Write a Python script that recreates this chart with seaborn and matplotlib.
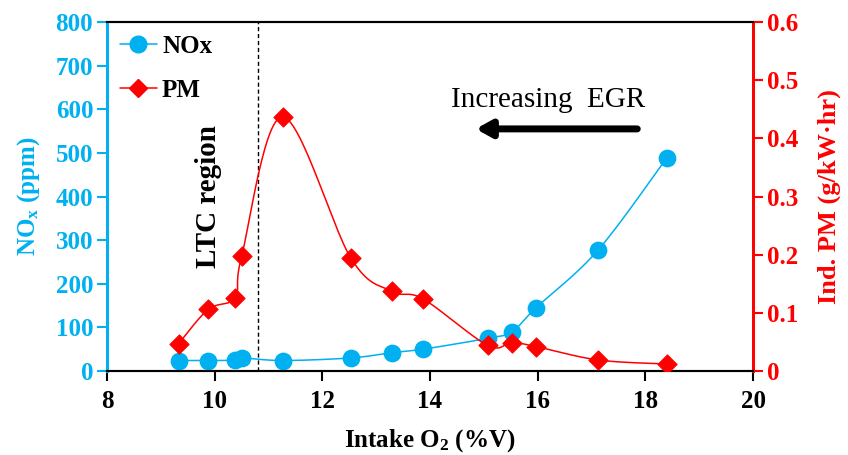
import numpy as np
import pandas as pd
import seaborn as sns
import matplotlib
matplotlib.use('Agg')
import matplotlib.pyplot as plt
from matplotlib.lines import Line2D

# intake O2 (%V) at each test point
o2 = [9.33, 9.88, 10.38, 10.50, 11.26, 12.53, 13.29, 13.87, 15.07, 15.52, 15.97, 17.12, 18.40]
# NOx (ppm)
nox = [24, 24, 25, 30, 24, 30, 42, 50, 75, 90, 145, 277, 489]
# indicated PM (g/kW.hr)
pm = [0.047, 0.106, 0.126, 0.197, 0.437, 0.194, 0.137, 0.124, 0.044, 0.049, 0.042, 0.019, 0.012]

x_ticks = [8, 10, 12, 14, 16, 18, 20]
nox_ticks = [0, 100, 200, 300, 400, 500, 600, 700, 800]
pm_ticks = [0, 0.1, 0.2, 0.3, 0.4, 0.5, 0.6]
pm_labels = ['0', '0.1', '0.2', '0.3', '0.4', '0.5', '0.6']

blue = '#00B0F0'
red = '#FF0000'


def smooth(xs, ys, n=30):
    # excel-like smoothed line: cubic bezier with catmull-rom control points
    xs = np.asarray(xs, float)
    ys = np.asarray(ys, float)
    px = np.concatenate([[xs[0]], xs, [xs[-1]]])
    py = np.concatenate([[ys[0]], ys, [ys[-1]]])
    outx, outy = [], []
    t = np.linspace(0, 1, n)
    for i in range(1, len(px) - 2):
        p0x, p0y = px[i], py[i]
        p3x, p3y = px[i + 1], py[i + 1]
        c1x = p0x + (px[i + 1] - px[i - 1]) / 6
        c1y = p0y + (py[i + 1] - py[i - 1]) / 6
        c2x = p3x - (px[i + 2] - px[i]) / 6
        c2y = p3y - (py[i + 2] - py[i]) / 6
        bx = (1-t)**3*p0x + 3*(1-t)**2*t*c1x + 3*(1-t)*t**2*c2x + t**3*p3x
        by = (1-t)**3*p0y + 3*(1-t)**2*t*c1y + 3*(1-t)*t**2*c2y + t**3*p3y
        outx.extend(bx)
        outy.extend(by)
    return pd.DataFrame({'x': outx, 'y': outy})


sns.set_style('ticks')
plt.rcParams['font.family'] = ['Liberation Serif', 'DejaVu Serif']
plt.rcParams['font.weight'] = 'bold'
plt.rcParams['text.color'] = 'black'
plt.rcParams['axes.labelcolor'] = 'black'
plt.rcParams['mathtext.fontset'] = 'custom'
plt.rcParams['mathtext.rm'] = 'Liberation Serif:bold'
plt.rcParams['mathtext.bf'] = 'Liberation Serif:bold'
plt.rcParams['mathtext.it'] = 'Liberation Serif:bold:italic'

fig = plt.figure(figsize=(8.48, 4.55), dpi=100)
ax = fig.add_axes([0.1262, 0.1846, 0.7618, 0.767])
ax2 = ax.twinx()

df = pd.DataFrame({'o2': o2, 'nox': nox, 'pm': pm})

sns.lineplot(data=smooth(o2, nox), x='x', y='y', sort=False, ax=ax, color=blue, lw=1.1)
sns.scatterplot(data=df, x='o2', y='nox', ax=ax, color=blue, s=140, marker='o',
                edgecolor=blue, zorder=3)
sns.lineplot(data=smooth(o2, pm), x='x', y='y', sort=False, ax=ax2, color=red, lw=1.1)
sns.scatterplot(data=df, x='o2', y='pm', ax=ax2, color=red, s=95, marker='D',
                edgecolor=red, zorder=3)

ax.set_xlim(8, 20)
ax.set_ylim(0, 800)
ax2.set_ylim(0, 0.6)
ax.set_xticks(x_ticks)
ax.set_yticks(nox_ticks)
ax2.set_yticks(pm_ticks)
ax2.set_yticklabels(pm_labels)

ax.set_xlabel('Intake O$_\\mathrm{2}$ (%V)', fontsize=18, fontweight='bold', labelpad=10)
ax.set_ylabel('NO$_\\mathrm{x}$ (ppm)', fontsize=18, fontweight='bold', color=blue, labelpad=10)
ax2.set_ylabel('Ind. PM (g/kW·hr)', fontsize=19, fontweight='bold', color=red, labelpad=14)

ax.tick_params(axis='x', labelsize=18, width=1.5, length=7, colors='black', pad=7)
ax.tick_params(axis='y', labelsize=18, width=1.5, length=7, colors=blue, pad=3)
ax2.tick_params(axis='y', labelsize=18, width=1.5, length=7, colors=red, pad=3)
for lab in ax.get_xticklabels() + ax.get_yticklabels() + ax2.get_yticklabels():
    lab.set_fontweight('bold')

for a in (ax, ax2):
    for s in a.spines.values():
        s.set_linewidth(1.5)
        s.set_color('black')
    a.spines['left'].set_color(blue)
    a.spines['left'].set_linewidth(2)
    a.spines['right'].set_color(red)
    a.spines['right'].set_linewidth(2)

ax.axvline(10.8, color='black', ls='--', lw=1, dashes=(3, 2))

ax.text(9.88, 399, 'LTC region', rotation=90, ha='center', va='center',
        fontsize=21, fontweight='bold')
ax.text(16.2, 622, 'Increasing  EGR', ha='center', va='center',
        fontsize=21, fontweight='normal')
ax.annotate('', xy=(14.85, 555), xytext=(17.85, 555),
            arrowprops=dict(arrowstyle='-|>,head_length=0.9,head_width=0.5',
                            color='black', lw=5, shrinkA=0, shrinkB=0))

handles = [Line2D([], [], color=blue, marker='o', markersize=12, lw=1.1),
           Line2D([], [], color=red, marker='D', markersize=9, lw=1.1)]
ax.legend(handles, ['NOx', 'PM'], loc='upper left', frameon=False,
          prop={'size': 18, 'weight': 'bold'}, handlelength=1.5,
          handletextpad=0.2, borderaxespad=0.05, borderpad=0.45, labelspacing=0.85)

fig.savefig('out.png', dpi=100)
